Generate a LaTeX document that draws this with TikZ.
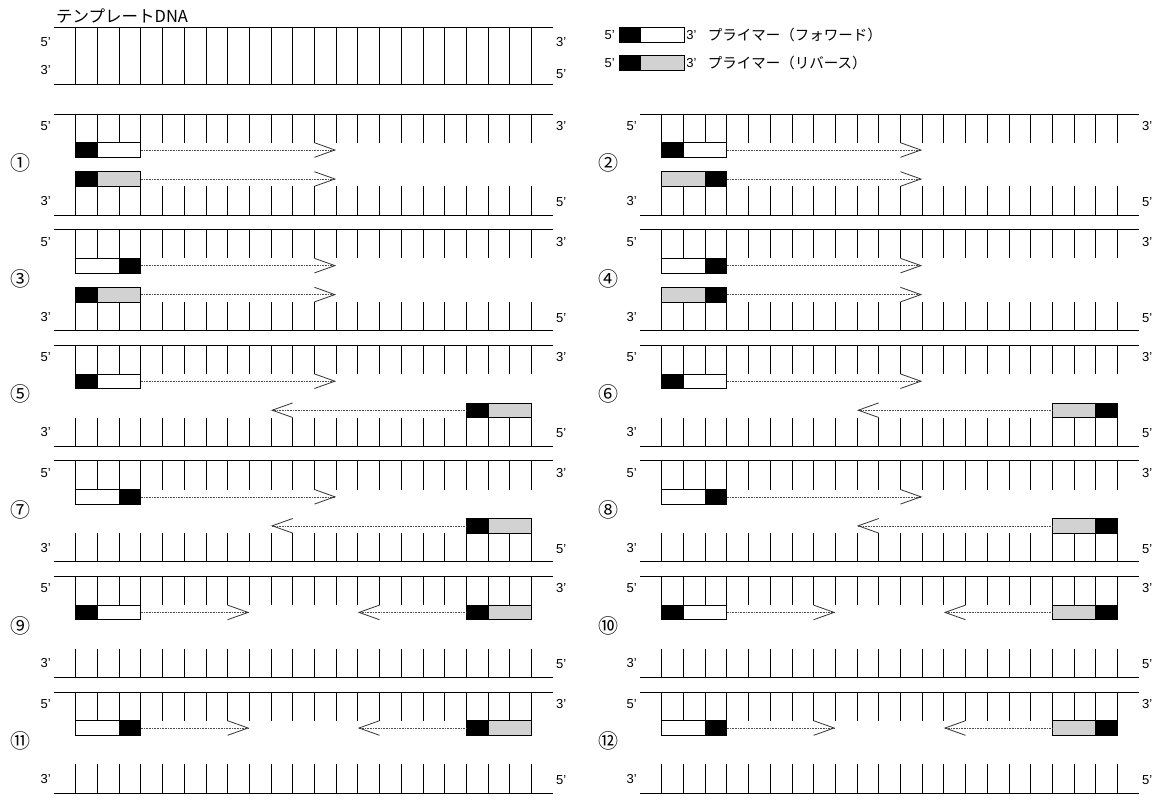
\documentclass[tikz,border=0pt]{standalone}
\usepackage{fontspec}
\setmainfont{Liberation Sans}
\newfontfamily\jpfont{Noto Sans CJK JP}
\usetikzlibrary{positioning}

\begin{document}
\begin{tikzpicture}[x=1pt, y=-1pt,
    strand/.style={line width=0.9pt},
    rung/.style={line width=0.8pt},
    seg/.style={draw=black, line width=0.8pt, rectangle, inner sep=0pt, outer sep=0pt, minimum height=14.6pt},
    blk/.style={seg, fill=black, minimum width=21.7pt},
    wht/.style={seg, fill=white, minimum width=43.4pt},
    gry/.style={seg, fill=gray!35, minimum width=43.4pt},
    ext/.style={densely dotted, line width=0.6pt, gray!60!black},
    head/.style={line width=0.8pt, black!80},
    endlabel/.style={font=\fontsize{13}{15}\selectfont, inner sep=1pt},
    jplabel/.style={font=\jpfont\fontsize{14.5}{17}\selectfont, inner sep=0pt},
    titlelabel/.style={font=\jpfont\fontsize{16.5}{19}\selectfont, inner sep=0pt},
    numlabel/.style={font=\jpfont\fontsize{20}{22}\selectfont, inner sep=0pt}
  ]
  \useasboundingbox (0,0) rectangle (1164,795);

  % Template
  \node[titlelabel, anchor=base west] (title) at (56,22) {テンプレートDNA};
  \draw[strand] (54,27) -- (553,27);
  \draw[strand] (54,84) -- (553,84);
  \foreach \rk in {1,...,22}
    \draw[rung] ({54+21.7*\rk},27) -- ({54+21.7*\rk},84);
  \node[endlabel, anchor=east] (t5l) at (52,42.5) {5’};
  \node[endlabel, anchor=east] (t3l) at (52,70.5) {3’};
  \node[endlabel, anchor=west] (t3r) at (555,42.5) {3’};
  \node[endlabel, anchor=west] (t5r) at (555,74) {5’};

  % Legende
  \node[blk, anchor=north west] (fa) at (619,27.5) {};
  \node[wht, anchor=west] (fb) at (fa.east) {};
  \node[endlabel, left=3pt of fa] (f5) {5’};
  \node[endlabel, right=1pt of fb] (f3) {3’};
  \node[jplabel, right=10pt of f3] (ftext) {プライマー（フォワード）};
  \node[blk, anchor=north west] (ra) at (619,55.5) {};
  \node[gry, anchor=west] (rb) at (ra.east) {};
  \node[endlabel, left=3pt of ra] (r5) {5’};
  \node[endlabel, right=1pt of rb] (r3) {3’};
  \node[jplabel, right=10pt of r3] (rtext) {プライマー（リバース）};

  % Stränge
  \foreach \col in {0,1}
    \foreach \row in {1,...,6} {
      \pgfmathsetmacro\xo{54+586*\col}
      \pgfmathsetmacro\yt{114+115.6*(\row-1)}
      \draw[strand] (\xo,\yt) -- ++(499,0);
      \draw[strand] (\xo,{\yt+101}) -- ++(499,0);
      \foreach \rk in {1,...,22} {
        \draw[rung] ({\xo+21.7*\rk},\yt) -- ++(0,28.7);
        \draw[rung] ({\xo+21.7*\rk},{\yt+101}) -- ++(0,-28.7);
      }
      \node[endlabel, anchor=east] (a\col\row) at ({\xo-2},{\yt+12}) {5’};
      \node[endlabel, anchor=east] (b\col\row) at ({\xo-2},{\yt+87}) {3’};
      \node[endlabel, anchor=west] (c\col\row) at ({\xo+501},{\yt+12}) {3’};
      \node[endlabel, anchor=west] (d\col\row) at ({\xo+501},{\yt+88}) {5’};
    }

  % Nummern
  \foreach \col/\row/\num in {0/1/①,1/1/②,0/2/③,1/2/④,0/3/⑤,1/3/⑥,0/4/⑦,1/4/⑧,0/5/⑨,1/5/⑩,0/6/⑪,1/6/⑫}
    \node[numlabel] (n\col\row) at ({20+588*\col},{163+115.6*(\row-1)}) {\num};

  % Primer und Verlängerung
  \foreach \col/\row/\lv/\rk/\ls/\rs/\arm/\dir/\side in {
      0/1/0/1/blk/wht/12/1/b.east,   0/1/1/1/blk/gry/12/1/b.east,
      1/1/0/1/blk/wht/12/1/b.east,   1/1/1/1/gry/blk/12/1/b.east,
      0/2/0/1/wht/blk/12/1/b.east,   0/2/1/1/blk/gry/12/1/b.east,
      1/2/0/1/wht/blk/12/1/b.east,   1/2/1/1/gry/blk/12/1/b.east,
      0/3/0/1/blk/wht/12/1/b.east,   0/3/1/19/blk/gry/11/-1/a.west,
      1/3/0/1/blk/wht/12/1/b.east,   1/3/1/19/gry/blk/11/-1/a.west,
      0/4/0/1/wht/blk/12/1/b.east,   0/4/1/19/blk/gry/11/-1/a.west,
      1/4/0/1/wht/blk/12/1/b.east,   1/4/1/19/gry/blk/11/-1/a.west,
      0/5/0/1/blk/wht/8/1/b.east,    0/5/0/19/blk/gry/15/-1/a.west,
      1/5/0/1/blk/wht/8/1/b.east,    1/5/0/19/gry/blk/15/-1/a.west,
      0/6/0/1/wht/blk/8/1/b.east,    0/6/0/19/blk/gry/15/-1/a.west,
      1/6/0/1/wht/blk/8/1/b.east,    1/6/0/19/gry/blk/15/-1/a.west} {
    \pgfmathsetmacro\xo{54+586*\col}
    \pgfmathsetmacro\yb{114+115.6*(\row-1)+28.7+29*\lv}
    \node[\ls, anchor=north west] (p\col\row\lv\rk a) at ({\xo+21.7*\rk},\yb) {};
    \node[\rs, anchor=west] (p\col\row\lv\rk b) at (p\col\row\lv\rk a.east) {};
    \coordinate (t\col\row\lv\rk) at ({\xo+21.7*\arm+20.5*\dir},{\yb+7.3});
    \draw[ext] (p\col\row\lv\rk\side) -- (t\col\row\lv\rk);
    \draw[head] (t\col\row\lv\rk) ++({-20.5*\dir},-7.3) -- (t\col\row\lv\rk) -- ++({-20.5*\dir},7.3);
  }

\end{tikzpicture}
\end{document}
